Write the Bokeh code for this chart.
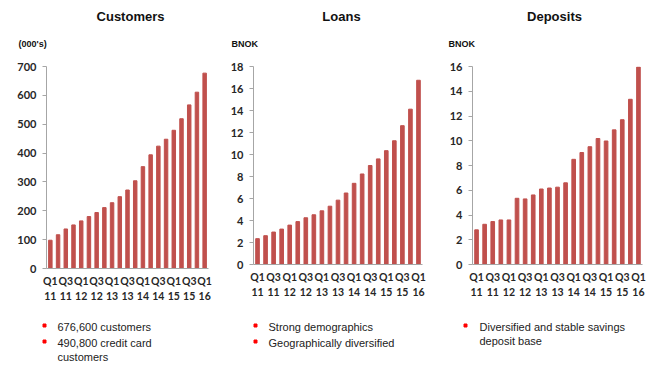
from bokeh.plotting import figure
from bokeh.layouts import row, column
from bokeh.models import Range1d, FixedTicker, LinearAxis
from bokeh.core.properties import value
from bokeh.embed import file_html
from bokeh.resources import INLINE

quarters = ["Q1 11", "Q2 11", "Q3 11", "Q4 11", "Q1 12", "Q2 12", "Q3 12", "Q4 12",
            "Q1 13", "Q2 13", "Q3 13", "Q4 13", "Q1 14", "Q2 14", "Q3 14", "Q4 14",
            "Q1 15", "Q2 15", "Q3 15", "Q4 15", "Q1 16"]
labelled_quarters = ["Q1 11", "Q3 11", "Q1 12", "Q3 12", "Q1 13", "Q3 13",
                     "Q1 14", "Q3 14", "Q1 15", "Q3 15", "Q1 16"]
tick_quarter = ["Q1", "Q3", "Q1", "Q3", "Q1", "Q3", "Q1", "Q3", "Q1", "Q3", "Q1"]
tick_year = ["11", "11", "12", "12", "13", "13", "14", "14", "15", "15", "16"]

customers = [98, 117, 137, 151, 165, 180, 194, 211, 228, 249, 272, 304, 353, 394,
             424, 448, 479, 519, 567, 611, 677]
loans = [2.35, 2.62, 2.95, 3.22, 3.58, 3.9, 4.25, 4.52, 4.88, 5.3, 5.85, 6.5, 7.38,
         8.23, 9.0, 9.6, 10.35, 11.25, 12.62, 14.12, 16.75]
deposits = [2.8, 3.25, 3.47, 3.6, 3.6, 5.35, 5.3, 5.62, 6.1, 6.18, 6.25, 6.6, 8.5,
            9.05, 9.52, 10.18, 9.98, 10.88, 11.7, 13.35, 15.95]

titles = ["Customers", "Loans", "Deposits"]
units = ["(000's)", "BNOK", "BNOK"]
y_ticks = [list(range(0, 701, 100)), list(range(0, 19, 2)), list(range(0, 17, 2))]
bullet_lines = [["676,600 customers", "490,800 credit card", "customers"],
                ["Strong demographics", "Geographically diversified"],
                ["Diversified and stable savings", "deposit base"]]
bullet_starts = [[True, True, False], [True, True], [True, False]]

BAR = "#C0504D"
AXIS = "#a6a6a6"
TXT = "#262626"

W, HH = 654, 368
header_h = 58
fig_bottom = [313, 309, 309]
footer_top = 313
panel_x0 = [0, 220, 440]
panel_w = [220, 220, 214]
frame_left = [46, 253, 472]
frame_w = [162, 169, 170]
frame_top = 66
frame_bottom = [268, 264, 264]
title_cx = [130, 341, 554]
unit_x = [18, 231, 448]
bullet_x = [44, 255, 465]
text_x = [57, 268, 479]
line_y = [[326, 342, 356], [326, 342], [326, 340]]


def text_fig(h):
    f = figure(width=W, height=h, x_range=Range1d(0, W), y_range=Range1d(h, 0),
               output_backend="svg", toolbar_location=None, x_axis_type=None,
               y_axis_type=None, min_border=0)
    f.outline_line_color = None
    f.grid.visible = False
    return f


def make(i, values):
    fl = frame_left[i] - panel_x0[i]
    ymax = y_ticks[i][-1]
    n = len(quarters)
    p = figure(width=panel_w[i], height=fig_bottom[i] - header_h,
               x_range=Range1d(0, n), y_range=Range1d(0, ymax), output_backend="svg",
               toolbar_location=None, x_axis_type=None, min_border_left=fl,
               min_border_right=panel_w[i] - fl - frame_w[i],
               min_border_top=frame_top - header_h,
               min_border_bottom=fig_bottom[i] - frame_bottom[i])
    xs = [quarters.index(q) + 0.5 for q in quarters]
    p.vbar(x=xs, top=values, width=0.45, color=BAR)
    p.outline_line_color = None
    p.grid.grid_line_color = None

    ya = p.yaxis[0]
    ya.ticker = FixedTicker(ticks=y_ticks[i])
    ya.minor_tick_line_color = None
    ya.major_tick_in = 0
    ya.major_tick_out = 4
    ya.axis_line_color = AXIS
    ya.major_tick_line_color = AXIS
    ya.major_label_text_font = "Lato"
    ya.major_label_text_font_style = "bold"
    ya.major_label_text_font_size = "11px"
    ya.major_label_text_color = TXT
    ya.major_label_standoff = 6

    tick_pos = [quarters.index(q) + 0.5 for q in labelled_quarters]
    for k, labels in enumerate([tick_quarter, tick_year]):
        ax = LinearAxis(ticker=FixedTicker(ticks=tick_pos),
                        major_label_overrides={t: s for t, s in zip(tick_pos, labels)})
        ax.axis_line_color = AXIS if k == 0 else None
        ax.major_tick_line_color = None
        ax.minor_tick_line_color = None
        ax.major_label_text_font = "Lato"
        ax.major_label_text_font_style = "bold"
        ax.major_label_text_font_size = "10.5px"
        ax.major_label_text_color = TXT
        ax.major_label_standoff = 0 if k == 0 else -4
        p.add_layout(ax, "below")
    return p


header = text_fig(header_h)
header.text(x=title_cx, y=[16] * 3, text=titles, text_align="center",
            text_baseline="middle", text_font=value("Liberation Sans"),
            text_font_style="bold", text_font_size="13px", text_color="#111111")
header.text(x=unit_x, y=[43] * 3, text=units, text_align="left",
            text_baseline="middle", text_font=value("Liberation Sans"),
            text_font_style="bold", text_font_size="9px", text_color="#111111")

footer = text_fig(HH - footer_top)
bx, by, tx, ty, tt = [], [], [], [], []
for i in range(3):
    for j, line in enumerate(bullet_lines[i]):
        y = line_y[i][j] - footer_top
        if bullet_starts[i][j]:
            bx.append(bullet_x[i])
            by.append(y - 1)
        tx.append(text_x[i])
        ty.append(y)
        tt.append(line)
footer.scatter(x=bx, y=by, marker="square", size=3, color="#ff0000")
footer.text(x=tx, y=ty, text=tt, text_align="left", text_baseline="middle",
            text_font=value("Liberation Sans"), text_font_size="11px",
            text_color="#222222")

p1 = make(0, customers)
p2 = make(1, loans)
p3 = make(2, deposits)
p = column(header, row(p1, p2, p3, spacing=0), footer, spacing=0)
open("out.html", "w").write(file_html(p, INLINE))
